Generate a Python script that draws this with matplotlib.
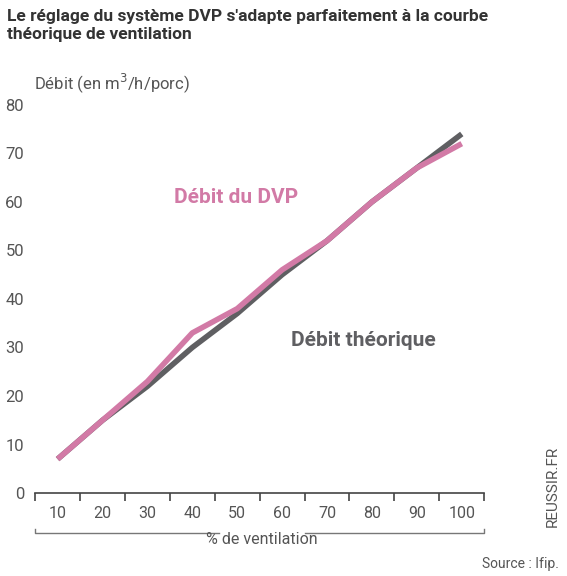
import matplotlib
matplotlib.use("Agg")
import matplotlib.pyplot as plt

plt.rcParams['font.family'] = ['Roboto', 'DejaVu Sans']

ventilation = [10, 20, 30, 40, 50, 60, 70, 80, 90, 100]
debit_theorique = [7, 15, 22, 30, 37, 45, 52, 60, 67, 74]
debit_dvp = [7, 15, 23, 33, 38, 46, 52, 60, 67, 72]
yticks = [0, 10, 20, 30, 40, 50, 60, 70, 80]

gray = '#5f5f62'
pink = '#d27aa6'
txt = '#555555'

fig = plt.figure(figsize=(5.67, 5.76), dpi=100)
ax = fig.add_axes([0.062, 0.144, 0.792, 0.674])
ax.set_xlim(5, 105)
ax.set_ylim(0, 80)

ax.plot(ventilation, debit_theorique, color=gray, lw=4, solid_capstyle='butt', clip_on=False)
ax.plot(ventilation, debit_dvp, color=pink, lw=4, solid_capstyle='butt', clip_on=False)

for s in ['top', 'right', 'left']:
    ax.spines[s].set_visible(False)
ax.spines['bottom'].set_color('#444444')
ax.spines['bottom'].set_linewidth(1.2)
ax.set_xticks([15, 25, 35, 45, 55, 65, 75, 85, 95, 5, 105])
ax.set_xticklabels([])
ax.tick_params(axis='x', direction='out', length=6, color='#444444', width=1.2)
ax.set_yticks(yticks)
ax.set_yticklabels([str(v) for v in yticks], fontsize=12, color=txt)
ax.tick_params(axis='y', length=0, pad=8)

for v in ventilation:
    ax.text(v, -4.3, str(v), ha='center', va='center', fontsize=11.5, color=txt, clip_on=False)

# bracket
ax.plot([5, 5, 46], [-7.5, -8.3, -8.3], color='#777777', lw=1, clip_on=False)
ax.plot([65, 105, 105], [-8.3, -8.3, -7.5], color='#777777', lw=1, clip_on=False)
ax.text(55.5, -9.6, '% de ventilation', ha='center', va='center', fontsize=11.5, color=txt, clip_on=False)

ax.text(36, 61, 'Débit du DVP', color=pink, fontsize=15, fontweight='bold', va='center')
ax.text(62, 31.5, 'Débit théorique', color=gray, fontsize=15, fontweight='bold', va='center')

fig.text(0.013, 0.985, "Le réglage du système DVP s'adapte parfaitement à la courbe\nthéorique de ventilation",
         fontsize=12.5, fontweight='bold', color='#333333', va='top', ha='left', linespacing=1.3)
fig.text(0.06, 0.855, 'Débit (en m$^3$/h/porc)', fontsize=12, color=txt, va='center')
fig.text(0.975, 0.085, 'REUSSIR.FR', rotation=90, fontsize=11, color=txt, ha='center', va='bottom')
fig.text(0.985, 0.02, 'Source : Ifip.', fontsize=10, color=txt, ha='right', va='center')

fig.savefig('out.png', dpi=100)
